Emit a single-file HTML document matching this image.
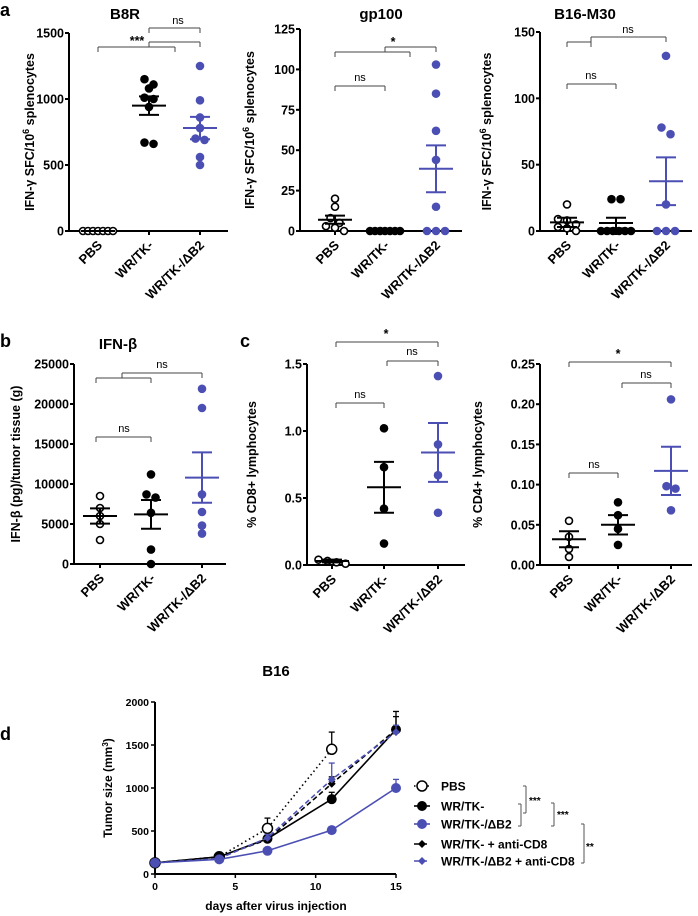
<!DOCTYPE html>
<html><head><meta charset="utf-8"><style>
body{margin:0;background:#fff}
svg{display:block;font-family:"Liberation Sans",sans-serif}
.t{font-weight:bold;font-size:12.5px}
.xl{font-weight:bold;font-size:13px}
.ns{font-size:11px}
</style></head><body>
<svg id="fig" width="698" height="916" viewBox="0 0 698 916" xmlns="http://www.w3.org/2000/svg"></svg>
<script>
// ---------- data ----------
const groupNames=["PBS","WR/TK-","WR/TK-/ΔB2"];
const b8rPBS=[0,0,0,0,0,0,0];
const b8rWR=[1150,1110,1080,1010,1000,940,660,670];
const b8rB2=[1250,990,860,780,700,690,560,500];
const b8rMean=[0,950,780];const b8rSem=[0,70,85];
const gpPBS=[20,15,8,5,3,2,0];
const gpWR=[0,0,0,0,0,0,0];
const gpB2=[103,85,62,44,15,0,0,0];
const gpMean=[7,0.5,38.5];const gpSem=[2.5,0.5,14.5];
const m30PBS=[20,9,8,5,3,2,0];
const m30WR=[24,24,0,0,0,0,0,0];
const m30B2=[132,78,73,20,0,0,0];
const m30Mean=[6.5,6,37.5];const m30Sem=[3.5,4,18];
const ifnPBS=[8500,7000,6000,5000,3000];
const ifnWR=[11200,8700,8300,6400,1800,0];
const ifnB2=[21900,19500,8700,6500,4800,3800];
const ifnMean=[6000,6200,10800];const ifnSem=[950,1800,3150];
const cd8PBS=[0.04,0.03,0.02,0.01];
const cd8WR=[1.02,0.73,0.42,0.16];
const cd8B2=[1.41,0.90,0.67,0.39];
const cd8Mean=[0.03,0.58,0.84];const cd8Sem=[0.01,0.19,0.22];
const cd4PBS=[0.055,0.035,0.02,0.01];
const cd4WR=[0.078,0.062,0.045,0.025];
const cd4B2=[0.206,0.098,0.095,0.068];
const cd4Mean=[0.032,0.05,0.117];const cd4Sem=[0.01,0.012,0.03];
const days=[0,4,7,11,15];
const tPBS=[130,200,530,1450];const tPBSerr=[10,20,120,200];
const tWR=[130,200,410,870,1680];const tWRerr=[10,20,40,80,210];
const tB2=[130,170,270,510,1000];const tB2err=[10,15,25,40,100];
const tWRcd8=[130,200,400,1050,1680];const tWRcd8err=[10,20,40,80,150];
const tB2cd8=[130,180,420,1100,1650];const tB2cd8err=[10,20,40,190,80];
const dTicks=[0,500,1000,1500,2000];const dXTicks=[0,5,10,15];

// ---------- helpers ----------
const NS="http://www.w3.org/2000/svg";const svg=document.getElementById('fig');
const BLUE="#4b4fb3";
function el(tag,attrs,parent,txt){const e=document.createElementNS(NS,tag);for(const k in attrs)e.setAttribute(k,attrs[k]);if(txt!==undefined)e.textContent=txt;(parent||svg).appendChild(e);return e;}
function name(e,n,i){return e;}
function line(p,x1,y1,x2,y2,c,w,dash){const a={x1,y1,x2,y2,stroke:c||'#000','stroke-width':w||1.5};if(dash)a['stroke-dasharray']=dash;return el('line',a,p);}

function scatterPanel(o){
  const g=el('g',{},svg);name(g,o.id+'-panel',false);
  const ys=v=>o.yb-(v/o.ymax)*(o.yb-o.yt);
  const ax=el('g',{},g);name(ax,o.id+'-axes',false);
  line(ax,o.ax,o.yt,o.ax,o.yb,'#000',2);line(ax,o.ax,o.yb,o.xe,o.yb,'#000',2);
  o.ticks.forEach((t,i)=>{const y=ys(t);line(ax,o.ax-4,y,o.ax,y,'#000',2);
    const tx=el('text',{x:o.ax-5,y:y+4.5,'text-anchor':'end',class:'t'},ax,o.tickLabels[i]);name(tx,'y-tick-label',false);});
  o.cx.forEach((x,i)=>{line(ax,x,o.yb,x,o.yb+4,'#000',2);
    const tx=el('text',{transform:`translate(${x+5},${o.yb+15}) rotate(-45)`,'text-anchor':'end',class:'xl'},ax,groupNames[i]);name(tx,'x-tick-label',false);});
  const yl=el('text',{transform:`translate(${o.ylx},${(o.yt+o.yb)/2}) rotate(-90)`,'text-anchor':'middle',class:'t','font-size':'13px'},g);name(yl,'y-axis-title',false);
  if(o.sfc){el('tspan',{},yl,'IFN-γ SFC/10');el('tspan',{dy:-5,'font-size':'9px'},yl,'6');el('tspan',{dy:5},yl,' splenocytes');}else yl.textContent=o.ylabel;
  if(o.title){const t=el('text',{x:o.tx,y:o.ty,'text-anchor':'middle','font-weight':'bold','font-size':'15px'},g,o.title);name(t,'panel-title',false);}
  const r=4.3;
  o.groups.forEach((vals,gi)=>{
    const col=gi==2?BLUE:'#000';
    const sorted=vals.map(v=>v).sort((a,b)=>b-a);const clusters=[];
    sorted.forEach(v=>{const y=ys(v);const c=clusters.find(c=>Math.abs(c.y-y)<r*1.6);if(c)c.v.push(v);else clusters.push({y,v:[v]});});
    clusters.forEach(c=>{const n=c.v.length;const step=n>1?Math.min(r*2.1,30/(n-1)):0;
      c.v.forEach((v,k)=>{const x=o.cx[gi]+(k-(n-1)/2)*step;
        const e=el('circle',{cx:x,cy:ys(v),r:gi==0?r-0.8:r,fill:gi==0?'#fff':col,stroke:col,'stroke-width':gi==0?1.6:0},g);name(e,'data-point',false);});});
    const m=ys(o.mean[gi]),lo=ys(o.mean[gi]-o.sem[gi]),hi=ys(o.mean[gi]+o.sem[gi]);
    const eb=el('g',{},g);name(eb,'mean-sem-bar',false);
    line(eb,o.cx[gi]-17,m,o.cx[gi]+17,m,col,2);line(eb,o.cx[gi],lo,o.cx[gi],hi,col,2);
    line(eb,o.cx[gi]-10,lo,o.cx[gi]+10,lo,col,2);line(eb,o.cx[gi]-10,hi,o.cx[gi]+10,hi,col,2);
  });
  (o.brackets||[]).forEach(b=>{const bg=el('g',{},g);name(bg,'significance-bracket',false);const c='#444';
    line(bg,b.x1,b.y+5,b.x1,b.y,c,1);line(bg,b.x1,b.y,b.x2,b.y,c,1);line(bg,b.x2,b.y,b.x2,b.y+5,c,1);
    if(b.sub){line(bg,b.sub[0],b.y-5,b.sub[0],b.y,c,1);line(bg,b.sub[0],b.y-5,b.sub[1],b.y-5,c,1);line(bg,b.sub[1],b.y-5,b.sub[1],b.y,c,1);}
    const t=el('text',{x:b.tx,y:b.ty,'text-anchor':'middle',class:b.l=='ns'?'ns':'t'},bg,b.l);name(t,'significance-label',false);});
}
function label(t,x,y){const e=el('text',{x,y,'font-weight':'bold','font-size':'18px'},svg,t);name(e,'panel-letter',false);}
label('a',0,16);label('b',0,347);label('c',240,347);label('d',0,740);

scatterPanel({id:'b8r',ax:69,yt:33,yb:231,xe:228,ymax:1500,ticks:[0,500,1000,1500],tickLabels:['0','500','1000','1500'],cx:[98,149,200],groups:[b8rPBS,b8rWR,b8rB2],mean:b8rMean,sem:b8rSem,sfc:true,ylx:34,title:'B8R',tx:125,ty:19,
 brackets:[{x1:98,x2:175,y:47,sub:[149,200],l:'***',tx:137,ty:45},{x1:149,x2:200,y:28,l:'ns',tx:178,ty:24}]});
scatterPanel({id:'gp100',ax:300,yt:29,yb:231,xe:462,ymax:125,ticks:[0,25,50,75,100,125],tickLabels:['0','25','50','75','100','125'],cx:[335,385,436],groups:[gpPBS,gpWR,gpB2],mean:gpMean,sem:gpSem,sfc:true,ylx:254,title:'gp100',tx:381,ty:19,
 brackets:[{x1:335,x2:410,y:52,sub:[385,436],l:'*',tx:393,ty:46},{x1:335,x2:385,y:86,l:'ns',tx:360,ty:81}]});
scatterPanel({id:'b16m30',ax:540,yt:32,yb:231,xe:692,ymax:150,ticks:[0,50,100,150],tickLabels:['0','50','100','150'],cx:[567,616,666],groups:[m30PBS,m30WR,m30B2],mean:m30Mean,sem:m30Sem,sfc:true,ylx:491,title:'B16-M30',tx:585,ty:19,
 brackets:[{x1:567,x2:591,y:42,sub:[591,666],l:'ns',tx:628,ty:33},{x1:567,x2:616,y:84,l:'ns',tx:591,ty:79}]});
scatterPanel({id:'ifnb',ax:74,yt:364,yb:564,xe:226,ymax:25000,ticks:[0,5000,10000,15000,20000,25000],tickLabels:['0','5000','10000','15000','20000','25000'],cx:[100,151,202],groups:[ifnPBS,ifnWR,ifnB2],mean:ifnMean,sem:ifnSem,ylabel:'IFN-β  (pg)/tumor tissue (g)',ylx:20,title:'IFN-β',tx:118,ty:349,
 brackets:[{x1:96,x2:151,y:378,sub:[122,202],l:'ns',tx:162,ty:368},{x1:96,x2:151,y:437,l:'ns',tx:124,ty:432}]});
scatterPanel({id:'cd8',ax:307,yt:364,yb:565,xe:465,ymax:1.5,ticks:[0,0.5,1.0,1.5],tickLabels:['0.0','0.5','1.0','1.5'],cx:[332,384,438],groups:[cd8PBS,cd8WR,cd8B2],mean:cd8Mean,sem:cd8Sem,ylabel:'% CD8+ lymphocytes',ylx:256,
 brackets:[{x1:336,x2:438,y:342,l:'*',tx:386,ty:338},{x1:387,x2:438,y:361,l:'ns',tx:412,ty:355},{x1:336,x2:384,y:403,l:'ns',tx:360,ty:398}]});
scatterPanel({id:'cd4',ax:540,yt:364,yb:565,xe:692,ymax:0.25,ticks:[0,0.05,0.10,0.15,0.20,0.25],tickLabels:['0.00','0.05','0.10','0.15','0.20','0.25'],cx:[569,618,671],groups:[cd4PBS,cd4WR,cd4B2],mean:cd4Mean,sem:cd4Sem,ylabel:'% CD4+ lymphocytes',ylx:482,
 brackets:[{x1:569,x2:671,y:362,l:'*',tx:618,ty:358},{x1:622,x2:671,y:383,l:'ns',tx:646,ty:378},{x1:569,x2:618,y:473,l:'ns',tx:594,ty:468}]});

// ---------- panel d ----------
(function(){
  const g=el('g',{},svg);name(g,'tumor-growth-panel',false);
  const X0=155,X1=396,Y0=874,Y1=702;
  const xs=d=>X0+d/15*(X1-X0), ys=v=>Y0-v/2000*(Y0-Y1);
  const t=el('text',{x:276,y:676,'text-anchor':'middle','font-weight':'bold','font-size':'15px'},g,'B16');name(t,'panel-title',false);
  const ax=el('g',{},g);name(ax,'axes',false);
  line(ax,X0,Y1,X0,Y0,'#000',2);line(ax,X0,Y0,X1,Y0,'#000',2);
  dTicks.forEach(v=>{line(ax,X0-4,ys(v),X0,ys(v),'#000',1.5);const e=el('text',{x:X0-6,y:ys(v)+4,'text-anchor':'end','font-weight':'bold','font-size':'10.5px'},ax,String(v));name(e,'y-tick-label',false);});
  dXTicks.forEach(v=>{line(ax,xs(v),Y0,xs(v),Y0+4,'#000',1.5);const e=el('text',{x:xs(v),y:Y0+16,'text-anchor':'middle','font-weight':'bold','font-size':'10.5px'},ax,String(v));name(e,'x-tick-label',false);});
  const xt=el('text',{x:276,y:910,'text-anchor':'middle','font-weight':'bold','font-size':'12px'},g,'days after virus injection');name(xt,'x-axis-title',false);
  const yt=el('text',{transform:`translate(112,788) rotate(-90)`,'text-anchor':'middle','font-weight':'bold','font-size':'12px'},g);name(yt,'y-axis-title',false);
  el('tspan',{},yt,'Tumor size (mm');el('tspan',{dy:-4,'font-size':'8px'},yt,'3');el('tspan',{dy:4},yt,')');
  const series=[
    {n:'pbs',v:tPBS,e:tPBSerr,c:'#000',dash:'1.5,3',m:'open'},
    {n:'wr',v:tWR,e:tWRerr,c:'#000',dash:null,m:'dot'},
    {n:'wr-cd8',v:tWRcd8,e:tWRcd8err,c:'#000',dash:'5,3',m:'dia'},
    {n:'b2-cd8',v:tB2cd8,e:tB2cd8err,c:BLUE,dash:'5,3',m:'dia'},
    {n:'b2',v:tB2,e:tB2err,c:BLUE,dash:null,m:'dot'}];
  function marker(p,x,y,s){if(s.m=='open')return el('circle',{cx:x,cy:y,r:5,fill:'#fff',stroke:s.c,'stroke-width':1.5},p);
    if(s.m=='dot')return el('circle',{cx:x,cy:y,r:5,fill:s.c},p);
    return el('path',{d:`M${x} ${y-4}L${x+4} ${y}L${x} ${y+4}L${x-4} ${y}Z`,fill:s.c},p);}
  series.forEach(s=>{const sg=el('g',{},g);name(sg,'series-'+s.n,false);
    const pts=s.v.map((v,i)=>xs(days[i])+','+ys(v)).join(' ');
    const pl=el('polyline',{points:pts,fill:'none',stroke:s.c,'stroke-width':1.6},sg);if(s.dash)pl.setAttribute('stroke-dasharray',s.dash);name(pl,'series-line',false);
    s.v.forEach((v,i)=>{const x=xs(days[i]);line(sg,x,ys(v),x,ys(v+s.e[i]),s.c,1.3);line(sg,x-3,ys(v+s.e[i]),x+3,ys(v+s.e[i]),s.c,1.3);
      const mk=marker(sg,x,ys(v),s);name(mk,'data-point',false);});
  });
  const lg=el('g',{},g);name(lg,'legend',false);
  const rows=[['PBS',series[0],786],['WR/TK-',series[1],806],['WR/TK-/ΔB2',series[4],824],['WR/TK- + anti-CD8',series[2],844],['WR/TK-/ΔB2 + anti-CD8',series[3],861]];
  rows.forEach(r=>{const eg=el('g',{},lg);name(eg,'legend-entry',false);
    line(eg,414,r[2],430,r[2],r[1].c,1.6,r[1].dash);marker(eg,422,r[2],r[1]);
    el('text',{x:441,y:r[2]+4.5,'font-weight':'bold','font-size':'12px'},eg,r[0]);});
  const sg=el('g',{},g);name(sg,'significance-brackets',false);const c='#555';
  function br(x,y1,y2,l,tx,ty){line(sg,x-3,y1,x,y1,c,1);line(sg,x,y1,x,y2,c,1);line(sg,x-3,y2,x,y2,c,1);if(l){const e=el('text',{x:tx,y:ty,'font-weight':'bold','font-size':'10px'},sg,l);name(e,'significance-label',false);}}
  br(521,804,826,'',0,0);br(526,786,813,'***',529,804);br(554,803,826,'***',557,818);br(584,824,863,'**',586,850);
})();
</script>
</body></html>
